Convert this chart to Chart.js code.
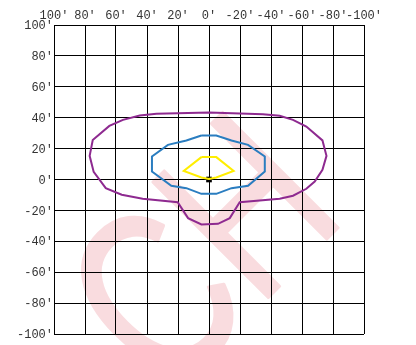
<!DOCTYPE html>
<html>
<head>
<meta charset="utf-8">
<script src="https://cdn.jsdelivr.net/npm/chart.js@4.4.1/dist/chart.umd.min.js"></script>
<style>
html,body{margin:0;padding:0;background:#fff;}
#wrap{width:416px;height:345px;position:relative;}
</style>
</head>
<body>
<div id="wrap"><canvas id="c" width="416" height="345"></canvas></div>
<script>
// Tick values and labels (degrees)
const tickValues = [-100,-80,-60,-40,-20,0,20,40,60,80,100];
const tickLabels = ["-100'","-80'","-60'","-40'","-20'","0'","20'","40'","60'","80'","100'"];

// Outer (purple) contour
const outerX = [0,-34.8,-45.6,-54.2,-62.8,-73.2,-75.8,-73.2,-68.2,-62.8,-54.2,-45.6,-19.8,-13.4,-5.8,4.9,13.5,20.2,42.8,56.3,66.6,74.4,77,75,64.3,55.5,44.7,33.9,0];
const outerY = [43.4,42.3,41.2,38.6,34.3,25.3,15.3,6.3,-1.3,-6,-10.5,-12.5,-14.7,-25,-28.7,-29.1,-25,-14.7,-12.5,-9.9,-5.6,4.9,15.3,25.6,34.7,38.6,41.4,42.5,43.4];

// Middle (blue) contour
const midX = [4.9,-4.7,-14.5,-25.2,-36,-36,-25.2,-14.5,-4.7,4.9,14.6,24.3,36.8,36.8,26.5,14.6,4.9];
const midY = [28.5,28.5,25.2,22.4,14.9,5.2,-4.1,-5.6,-9.3,-9.3,-5.6,-4.1,5.2,14.9,22.4,25.2,28.5];

// Inner (yellow) contour
const innerX = [4.9,-4.7,-15.9,-4.7,0,4.9,16.3,4.9];
const innerY = [14.5,14.5,5.6,1.3,0.4,1.3,5.6,14.5];

// Luminaire position
const centerX = [0];
const centerY = [0];

const pts = (xs, ys) => xs.map((x, i) => ({x: x, y: ys[i]}));

const watermark = {
  id: 'watermark',
  beforeDraw(chart) {
    const ctx = chart.ctx;
    ctx.save();
    const u = -164, v = 400;
    const x = (u + v) / Math.SQRT2, y = (v - u) / Math.SQRT2;
    ctx.translate(x, y);
    ctx.rotate(-Math.PI / 4);
    ctx.scale(0.75, 1);
    ctx.font = '237px "Liberation Sans"';
    ctx.fillStyle = '#f9dcdf';
    ctx.strokeStyle = '#f9dcdf';
    ctx.lineWidth = 3;
    ctx.lineJoin = 'round';
    ctx.textAlign = 'left';
    ctx.textBaseline = 'alphabetic';
    ctx.fillText('CH', 0, 0);
    ctx.strokeText('CH', 0, 0);
    ctx.restore();
  }
};

const tickFont = {family: '"Liberation Mono", monospace', size: 12};
const labelFor = v => { const i = tickValues.indexOf(v); return i >= 0 ? tickLabels[i] : ''; };

new Chart(document.getElementById('c'), {
  type: 'scatter',
  data: {
    datasets: [
      {data: pts(innerX, innerY), showLine: true, borderColor: '#ffee00', borderWidth: 2, pointRadius: 0, tension: 0, fill: false},
      {data: pts(midX, midY), showLine: true, borderColor: '#2a7dc0', borderWidth: 2, pointRadius: 0, tension: 0, fill: false},
      {data: pts(outerX, outerY), showLine: true, borderColor: '#8e2a90', borderWidth: 2, pointRadius: 0, tension: 0, fill: false},
      {data: pts(centerX, centerY), showLine: false, pointStyle: 'rect', pointRadius: 4, backgroundColor: '#000', borderColor: '#000', borderWidth: 0}
    ]
  },
  options: {
    responsive: false,
    animation: false,
    events: [],
    layout: {padding: {left: 0, right: 52, top: 0, bottom: 11}},
    plugins: {legend: {display: false}, tooltip: {enabled: false}},
    scales: {
      x: {
        type: 'linear', position: 'top', reverse: true, min: -100, max: 100,
        afterBuildTicks: s => { s.ticks = tickValues.map(v => ({value: v})); },
        afterFit: s => { s.height = 25; },
        ticks: {callback: labelFor, font: tickFont, color: '#333', padding: 2, maxRotation: 0, autoSkip: false},
        grid: {color: '#000', lineWidth: 1, drawTicks: false},
        border: {color: '#000', width: 1}
      },
      y: {
        type: 'linear', position: 'left', min: -100, max: 100,
        afterBuildTicks: s => { s.ticks = tickValues.map(v => ({value: v})); },
        afterFit: s => { s.width = 54; },
        ticks: {callback: labelFor, font: tickFont, color: '#333', padding: 1, labelOffset: 1, autoSkip: false},
        grid: {color: '#000', lineWidth: 1, drawTicks: false},
        border: {color: '#000', width: 1}
      }
    }
  },
  plugins: [watermark]
});
</script>
</body>
</html>
